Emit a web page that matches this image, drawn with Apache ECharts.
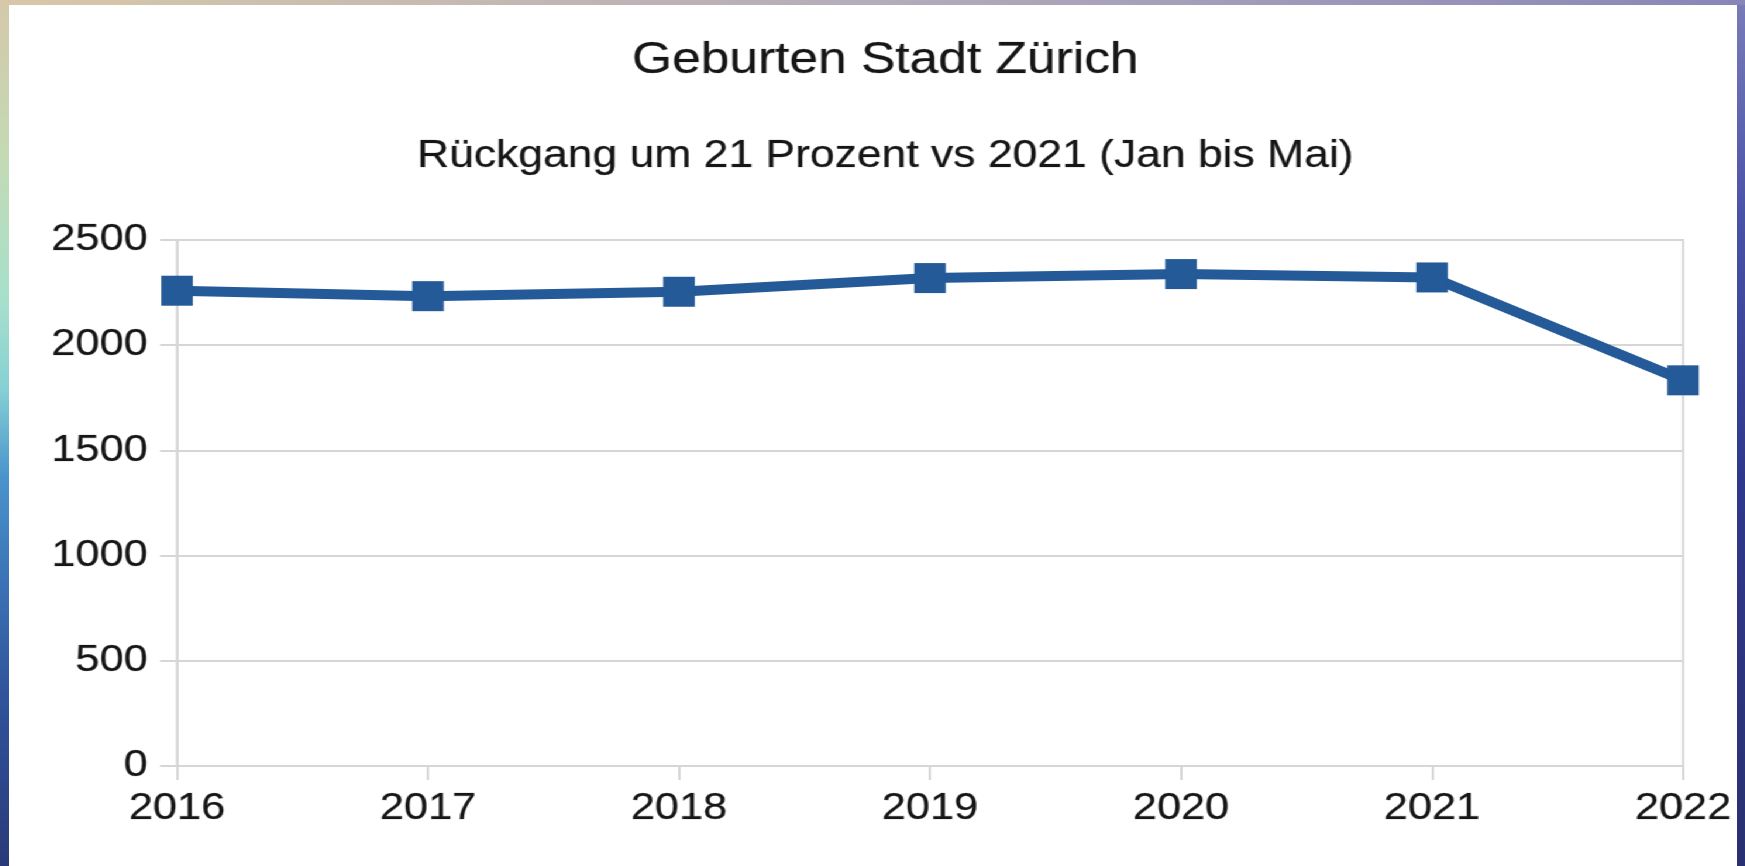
<!DOCTYPE html>
<html>
<head>
<meta charset="utf-8">
<title>Geburten Stadt Zürich</title>
<script src="https://cdn.jsdelivr.net/npm/echarts@6/dist/echarts.min.js"></script>
<style>
  html, body {
    margin: 0;
    padding: 0;
  }
  body {
    width: 1745px;
    height: 866px;
    overflow: hidden;
    position: relative;
    background:
      linear-gradient(to right, #d8c8a8, #b4acba 50%, #8886b8) left top / 100% 5px no-repeat,
      linear-gradient(to bottom, #d4c8aa 0%, #c4dab4 18%, #a6e0cc 35%, #86d0d4 45%, #4a94cc 55%, #3c76b8 66%, #30549c 80%, #2a3a78 100%) left top / 9px 100% no-repeat,
      linear-gradient(to bottom, #7a7cb8 0%, #4a52a8 25%, #30388c 55%, #2a3070 100%) right top / 8px 100% no-repeat,
      #2a3a80;
  }
  /* the source picture is stretched sideways, so the chart is too */
  #chart {
    position: absolute;
    left: 9px;
    top: 5px;
    width: 1477px;
    height: 861px;
    background: #fff;
    transform: scaleX(1.17);
    transform-origin: 0 0;
  }
</style>
</head>
<body>
<div id="chart"></div>
<script>
  const years = ["2016", "2017", "2018", "2019", "2020", "2021", "2022"];
  const births = [2259, 2233, 2254, 2319, 2338, 2322, 1833];
  const yTicks = { min: 0, max: 2500, interval: 500 };

  const titleText = "Geburten Stadt Zürich";
  const subText = "Rückgang um 21 Prozent vs 2021 (Jan bis Mai)";

  const font = "'Liberation Sans', Arial, sans-serif";
  const textColor = "#161616";
  const gridColor = "#d6d6d6";
  const lineColor = "#235a97";
  // a thin outline makes the text look as heavy as in the blurry source
  const heavy = { textBorderColor: "rgba(22,22,22,0.35)", textBorderWidth: 0.7 };

  const chartObj = echarts.init(document.getElementById("chart"), null, { renderer: "canvas" });
  const option = {
    backgroundColor: "#fff",
    animation: false,
    title: [
      {
        text: titleText,
        left: 749,
        top: 56,
        padding: 0,
        textAlign: "center",
        textVerticalAlign: "middle",
        textStyle: Object.assign({ fontFamily: font, fontSize: 44, fontWeight: "normal", color: textColor }, heavy)
      },
      {
        text: subText,
        left: 749,
        top: 151.5,
        padding: 0,
        textAlign: "center",
        textVerticalAlign: "middle",
        textStyle: Object.assign({ fontFamily: font, fontSize: 38, fontWeight: "normal", color: textColor }, heavy)
      }
    ],
    grid: {
      left: 143.6,
      right: 46.2,
      top: 235,
      bottom: 100,
      show: true,
      borderColor: gridColor,
      borderWidth: 2,
      containLabel: false
    },
    xAxis: {
      type: "category",
      data: years,
      boundaryGap: false,
      axisLine: { show: true, lineStyle: { color: gridColor, width: 2 } },
      axisTick: { show: true, length: 14, lineStyle: { color: gridColor, width: 2 } },
      splitLine: { show: false },
      axisLabel: Object.assign({ margin: 24, fontFamily: font, fontSize: 37, color: textColor }, heavy)
    },
    yAxis: {
      type: "value",
      min: yTicks.min,
      max: yTicks.max,
      interval: yTicks.interval,
      axisLine: { show: true, lineStyle: { color: gridColor, width: 2 } },
      axisTick: { show: true, length: 14.5, lineStyle: { color: gridColor, width: 2 } },
      splitLine: { show: true, lineStyle: { color: gridColor, width: 2 } },
      axisLabel: Object.assign({
        margin: 25,
        fontFamily: font,
        fontSize: 37,
        color: textColor,
        formatter: function(v) {
          return String(v);
        }
      }, heavy)
    },
    series: [
      {
        type: "line",
        data: births,
        symbol: "rect",
        symbolSize: [27, 30],
        lineStyle: { color: lineColor, width: 10 },
        itemStyle: { color: lineColor },
        z: 5
      }
    ]
  };
  chartObj.setOption(option);
</script>
</body>
</html>
